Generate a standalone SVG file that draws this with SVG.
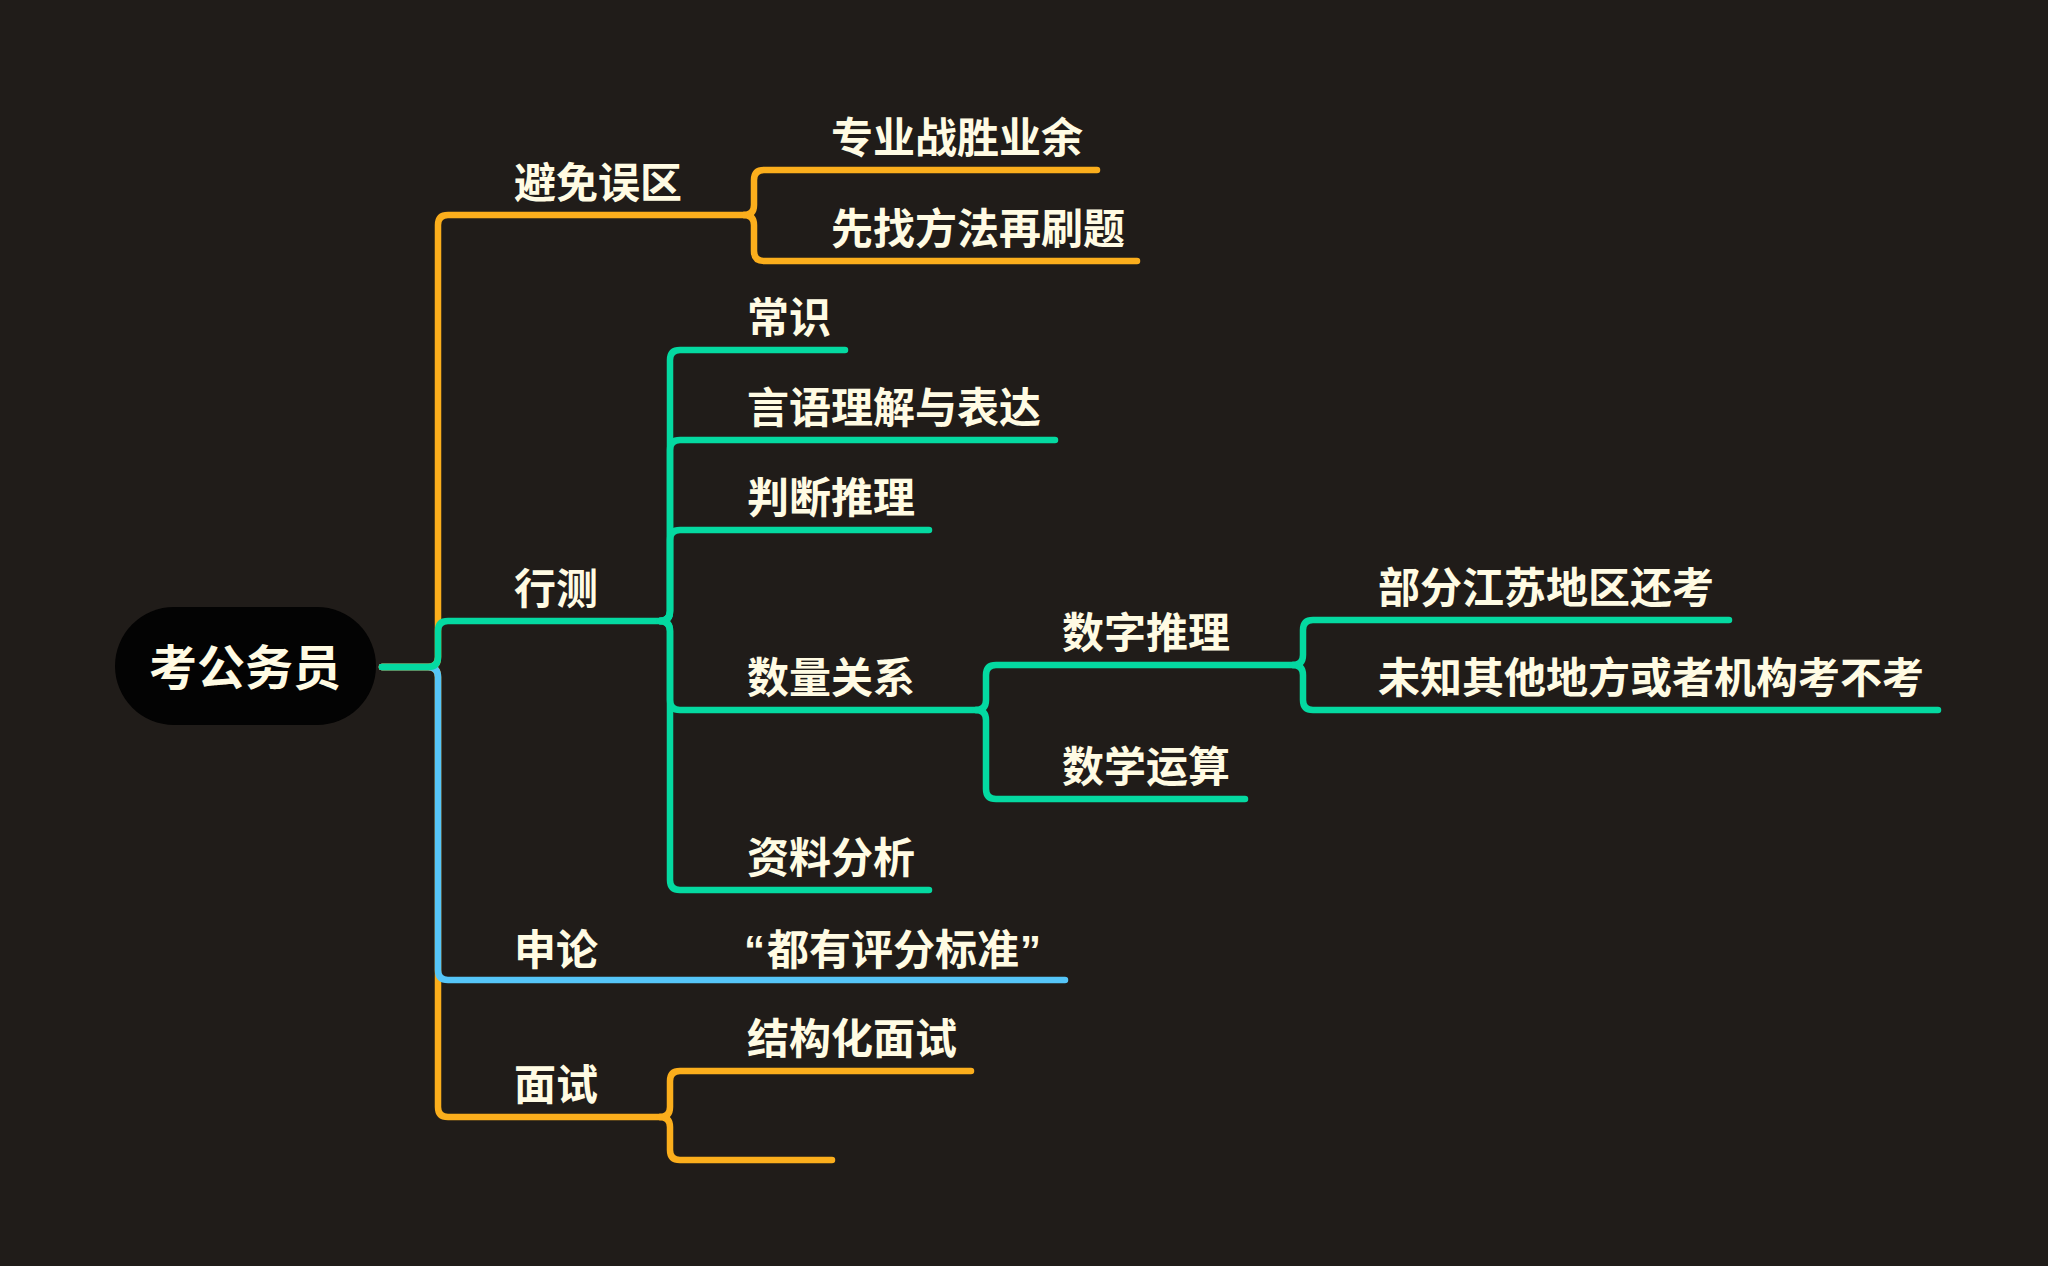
<svg xmlns="http://www.w3.org/2000/svg" width="2048" height="1266" viewBox="0 0 2048 1266">
<style>
.c{fill:none;stroke-width:6.5;stroke-linecap:round;stroke-linejoin:round}
.o{stroke:#FBAE1C}.t{stroke:#04D9A1}.b{stroke:#55C5F8}
text{font-family:"Noto Sans CJK SC","Noto Sans",sans-serif;font-weight:700;fill:#FFFBE3;font-size:42px}
.q{font-family:"Liberation Sans","Noto Sans",sans-serif}
</style>
<rect width="2048" height="1266" fill="#201C19"/>
<g id="connectors">
<path class="c o" d="M382,667 H428 Q438,667 438,657 V225 Q438,215 448,215 H744"/>
<path class="c o" d="M744,215 Q754,215 754,205 V180 Q754,170 764,170 H1097"/>
<path class="c o" d="M744,215 Q754,215 754,225 V251 Q754,261 764,261 H1137"/>
<path class="c o" d="M382,667 H428 Q438,667 438,677 V1107 Q438,1117 448,1117 H660"/>
<path class="c o" d="M660,1117 Q670,1117 670,1107 V1081 Q670,1071 680,1071 H971"/>
<path class="c o" d="M660,1117 Q670,1117 670,1127 V1150 Q670,1160 680,1160 H832"/>
<path class="c b" d="M382,667 H428 Q438,667 438,677 V970 Q438,980 448,980 H1065"/>
<path class="c t" d="M382,667 H428 Q438,667 438,657 V631 Q438,621 448,621 H660"/>
<path class="c t" d="M660,621 Q670,621 670,611 V360 Q670,350 680,350 H845"/>
<path class="c t" d="M660,621 Q670,621 670,611 V450 Q670,440 680,440 H1055"/>
<path class="c t" d="M660,621 Q670,621 670,611 V540 Q670,530 680,530 H929"/>
<path class="c t" d="M660,621 Q670,621 670,631 V700 Q670,710 680,710 H976"/>
<path class="c t" d="M660,621 Q670,621 670,631 V880 Q670,890 680,890 H929"/>
<path class="c t" d="M976,710 Q986,710 986,700 V675 Q986,665 996,665 H1293"/>
<path class="c t" d="M976,710 Q986,710 986,720 V789 Q986,799 996,799 H1245"/>
<path class="c t" d="M1293,665 Q1303,665 1303,655 V630 Q1303,620 1313,620 H1729"/>
<path class="c t" d="M1293,665 Q1303,665 1303,675 V700 Q1303,710 1313,710 H1938"/>
</g>
<g id="root"><rect x="115" y="607" width="261" height="118" rx="59" fill="#030303"/><text x="245" y="685" text-anchor="middle" style="font-size:48px">考公务员</text></g>
<g id="n-bimian"><text x="514" y="198">避免误区</text></g>
<g id="n-zhuanye"><text x="831" y="153">专业战胜业余</text></g>
<g id="n-xianzhao"><text x="831" y="244">先找方法再刷题</text></g>
<g id="n-xingce"><text x="514" y="604">行测</text></g>
<g id="n-changshi"><text x="747" y="333">常识</text></g>
<g id="n-yanyu"><text x="747" y="423">言语理解与表达</text></g>
<g id="n-panduan"><text x="747" y="513">判断推理</text></g>
<g id="n-shuliang"><text x="747" y="693">数量关系</text></g>
<g id="n-ziliao"><text x="747" y="873">资料分析</text></g>
<g id="n-shuzi"><text x="1062" y="648">数字推理</text></g>
<g id="n-shuxue"><text x="1062" y="782">数学运算</text></g>
<g id="n-bufen"><text x="1378" y="603">部分江苏地区还考</text></g>
<g id="n-weizhi"><text x="1378" y="693">未知其他地方或者机构考不考</text></g>
<g id="n-shenlun"><text x="514" y="965">申论</text></g>
<g id="n-pingfen"><text x="744" y="965"><tspan class="q">“</tspan><tspan dx="2">都有评分标准</tspan><tspan class="q" dx="1">”</tspan></text></g>
<g id="n-mianshi"><text x="514" y="1100">面试</text></g>
<g id="n-jiegou"><text x="747" y="1054">结构化面试</text></g>
<g id="n-empty"></g>
</svg>
